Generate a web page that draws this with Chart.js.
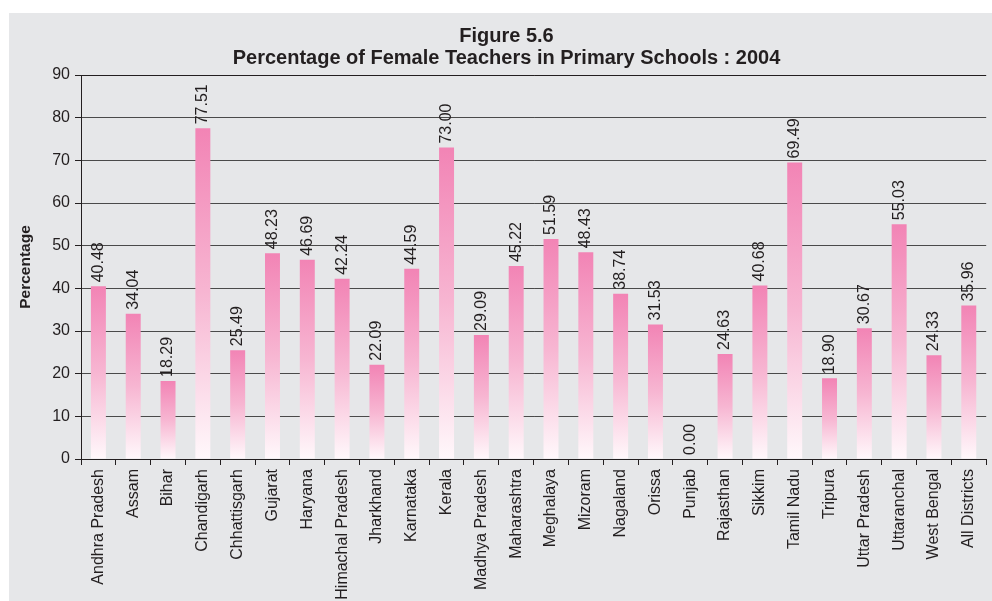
<!DOCTYPE html>
<html>
<head>
<meta charset="utf-8">
<script src="https://cdn.jsdelivr.net/npm/chart.js@4/dist/chart.umd.min.js"></script>
<style>
  html, body { margin: 0; padding: 0; background: #fff; }
  #wrap { width: 992px; height: 601px; }
</style>
</head>
<body>
<div id="wrap"><canvas id="c" width="992" height="601"></canvas></div>
<script>
const states = ['Andhra Pradesh', 'Assam', 'Bihar', 'Chandigarh', 'Chhattisgarh', 'Gujarat', 'Haryana',
  'Himachal Pradesh', 'Jharkhand', 'Karnataka', 'Kerala', 'Madhya Pradesh', 'Maharashtra', 'Meghalaya',
  'Mizoram', 'Nagaland', 'Orissa', 'Punjab', 'Rajasthan', 'Sikkim', 'Tamil Nadu', 'Tripura',
  'Uttar Pradesh', 'Uttaranchal', 'West Bengal', 'All Districts'];
const femalePct = [40.48, 34.04, 18.29, 77.51, 25.49, 48.23, 46.69, 42.24, 22.09, 44.59, 73.00, 29.09,
  45.22, 51.59, 48.43, 38.74, 31.53, 0.00, 24.63, 40.68, 69.49, 18.90, 30.67, 55.03, 24.33, 35.96];
const yTicks = [0, 10, 20, 30, 40, 50, 60, 70, 80, 90];
const titleLines = ['Figure 5.6', 'Percentage of Female Teachers in Primary Schools : 2004'];

const FONT = 'Liberation Sans, Arial, Helvetica, sans-serif';

// grey panel behind everything
const panel = {
  id: 'panel',
  beforeDraw(chart) {
    const ctx = chart.ctx;
    ctx.save();
    ctx.fillStyle = '#fff';
    ctx.fillRect(0, 0, chart.width, chart.height);
    ctx.fillStyle = '#e6e7e9';
    ctx.fillRect(9, 13, chart.width - 9, chart.height - 13);
    ctx.restore();
  }
};

// rotated value labels above each bar
const valueLabels = {
  id: 'valueLabels',
  afterDatasetsDraw(chart) {
    const ctx = chart.ctx;
    const meta = chart.getDatasetMeta(0);
    ctx.save();
    ctx.font = '16px ' + FONT;
    ctx.fillStyle = '#231f20';
    ctx.textAlign = 'left';
    ctx.textBaseline = 'middle';
    meta.data.forEach((bar, i) => {
      ctx.save();
      ctx.translate(bar.x, bar.y - 4);
      ctx.rotate(-Math.PI / 2);
      ctx.fillText(femalePct[i].toFixed(2), 0, 0);
      ctx.restore();
    });
    ctx.restore();
  }
};

function barFill(context) {
  const chart = context.chart;
  if (!chart.chartArea) return '#f5a3c7';
  const v = context.raw;
  const y = chart.scales.y;
  const top = y.getPixelForValue(v);
  const bottom = y.getPixelForValue(0);
  if (bottom - top < 1) return '#fff5fa';
  const g = chart.ctx.createLinearGradient(0, top, 0, bottom);
  g.addColorStop(0, '#f284b5');
  g.addColorStop(0.5, '#f7b6d2');
  g.addColorStop(1, '#fff8fb');
  return g;
}

new Chart(document.getElementById('c'), {
  type: 'bar',
  data: {
    labels: states,
    datasets: [{
      data: femalePct,
      backgroundColor: barFill,
      borderWidth: 0,
      barPercentage: 0.43,
      categoryPercentage: 1
    }]
  },
  options: {
    responsive: false,
    animation: false,
    devicePixelRatio: 1,
    layout: { padding: { left: 22, right: 1, top: 0, bottom: 0 } },
    plugins: {
      legend: { display: false },
      tooltip: { enabled: false },
      title: {
        display: true,
        text: titleLines,
        color: '#231f20',
        font: { family: FONT, size: 20, weight: 'bold', lineHeight: 1.1 },
        padding: { top: 25, bottom: 6 }
      }
    },
    scales: {
      x: {
        afterFit(scale) { scale.height = 142; },
        border: { color: '#231f20', width: 1 },
        grid: { drawOnChartArea: false, drawTicks: true, tickLength: 6, color: '#231f20', offset: true },
        ticks: {
          color: '#231f20',
          font: { family: FONT, size: 16 },
          minRotation: 90,
          maxRotation: 90,
          autoSkip: false,
          padding: 4
        }
      },
      y: {
        min: 0,
        max: 90,
        afterFit(scale) { scale.width = 59; },
        afterBuildTicks(scale) { scale.ticks = yTicks.map(v => ({ value: v })); },
        border: { color: '#231f20', width: 1 },
        grid: {
          color: ctx => (ctx.tick && ctx.tick.value === 90 ? '#231f20' : '#4a4a4a'),
          lineWidth: 1,
          tickLength: 6,
          tickColor: '#231f20'
        },
        ticks: {
          color: '#231f20',
          font: { family: FONT, size: 16 },
          padding: 5
        },
        title: {
          display: true,
          text: 'Percentage',
          color: '#231f20',
          font: { family: FONT, size: 15.5, weight: 'bold', lineHeight: 1 },
          padding: { top: -4, bottom: 0 }
        }
      }
    }
  },
  plugins: [panel, valueLabels]
});
</script>
</body>
</html>
